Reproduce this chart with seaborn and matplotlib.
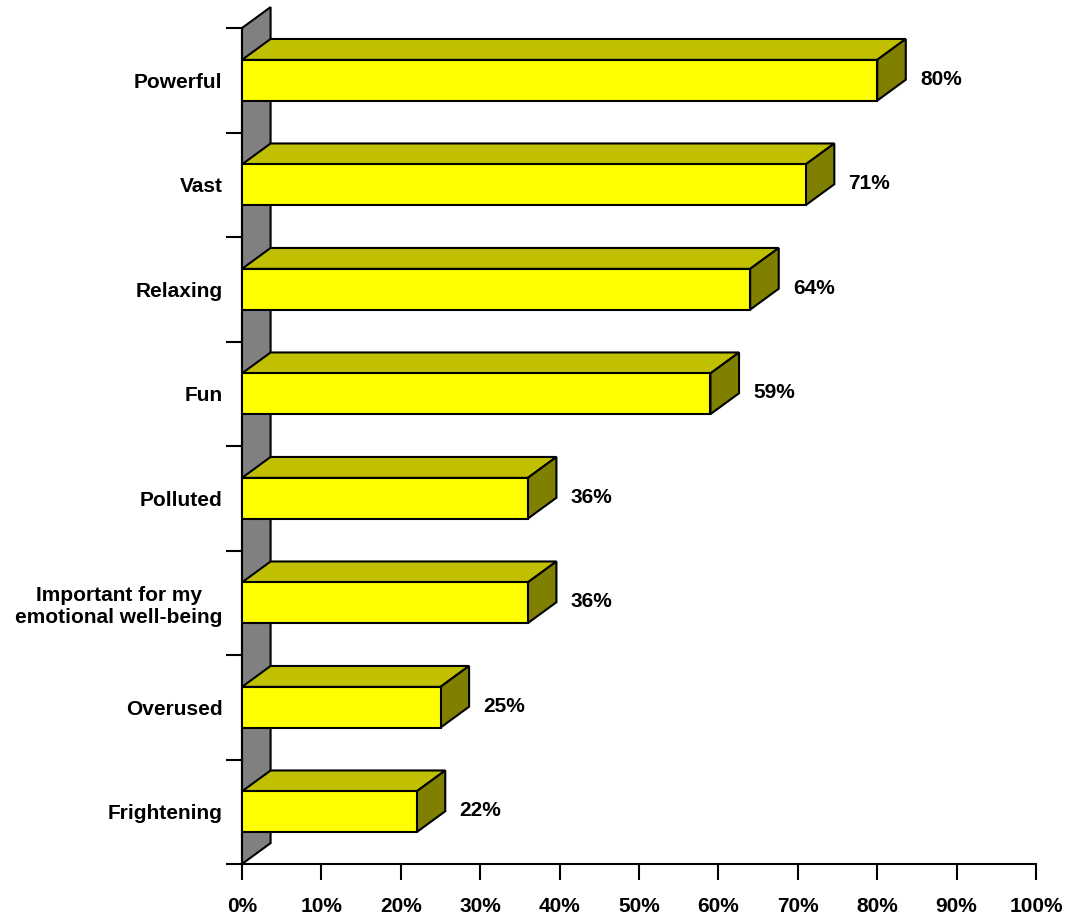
import matplotlib
matplotlib.use("Agg")
import matplotlib.pyplot as plt
import seaborn as sns
import pandas as pd
from matplotlib.patches import Polygon
from matplotlib.ticker import FixedLocator

categories = ["Powerful", "Vast", "Relaxing", "Fun", "Polluted",
              "Important for my\nemotional well-being", "Overused", "Frightening"]
values = [80, 71, 64, 59, 36, 36, 25, 22]
x_ticks = [0, 10, 20, 30, 40, 50, 60, 70, 80, 90, 100]
x_tick_labels = [f"{t}%" for t in x_ticks]

sns.set_theme(style="white")
plt.rcParams['font.family'] = ['Liberation Sans', 'DejaVu Sans']
plt.rcParams['font.weight'] = 'bold'
plt.rcParams['text.color'] = 'black'
plt.rcParams['xtick.color'] = 'black'
plt.rcParams['ytick.color'] = 'black'

FRONT = "#FFFF00"
TOP = "#C0C000"
SIDE = "#808000"
WALL = "#808080"
LW = 1.5
DX = 3.6
DY = 0.2
FS = 15

fig = plt.figure(figsize=(10.68, 9.17), dpi=100)
ax = fig.add_axes([242 / 1068, 53 / 917, 794 / 1068, 836 / 917])

df = pd.DataFrame({"category": categories, "value": values})
sns.barplot(data=df, x="value", y="category", orient="h", color=FRONT,
            width=0.39, edgecolor="black", linewidth=LW, saturation=1,
            ax=ax, zorder=3)

n = len(categories)
wall = Polygon([(0, n - 0.5), (DX, n - 0.5 - DY), (DX, -0.5 - DY), (0, -0.5)],
               closed=True, facecolor=WALL, edgecolor="black", linewidth=LW,
               clip_on=False, zorder=1, joinstyle="miter")
ax.add_patch(wall)

bars = list(ax.patches)[:n]
for p, v in zip(bars, values):
    w = p.get_width()
    y = p.get_y()
    h = p.get_height()
    top = Polygon([(0, y), (w, y), (w + DX, y - DY), (DX, y - DY)], closed=True,
                  facecolor=TOP, edgecolor="black", linewidth=LW, zorder=2,
                  clip_on=False, joinstyle="miter")
    side = Polygon([(w, y), (w + DX, y - DY), (w + DX, y + h - DY), (w, y + h)],
                   closed=True, facecolor=SIDE, edgecolor="black", linewidth=LW,
                   zorder=2, clip_on=False, joinstyle="miter")
    ax.add_patch(top)
    ax.add_patch(side)
    ax.text(w + DX + 1.8, y + h / 2 - 0.01, f"{v}%", ha="left", va="center",
            fontsize=FS, fontweight="bold", color="black")

ax.set_xlim(0, 100)
ax.set_ylim(n - 0.5, -0.5)
ax.set_xticks(x_ticks)
ax.set_xticklabels(x_tick_labels, fontsize=FS, fontweight="bold", color="black")
ax.set_yticks(range(n))
ax.set_yticklabels(categories, fontsize=FS, fontweight="bold", ha="right",
                   multialignment="center", color="black")
ax.yaxis.set_minor_locator(FixedLocator([i - 0.5 for i in range(n + 1)]))
ax.tick_params(axis="y", which="major", length=0, pad=14)
ax.tick_params(axis="y", which="minor", length=11.5, width=LW, color="black",
               direction="out", left=True)
ax.tick_params(axis="x", which="major", length=11.5, width=LW, color="black",
               direction="out", pad=12, bottom=True)
ax.set_xlabel("")
ax.set_ylabel("")
for s in ["top", "right"]:
    ax.spines[s].set_visible(False)
for s in ["left", "bottom"]:
    ax.spines[s].set_color("black")
    ax.spines[s].set_linewidth(LW)
ax.grid(False)

fig.savefig("out.png", dpi=100)
